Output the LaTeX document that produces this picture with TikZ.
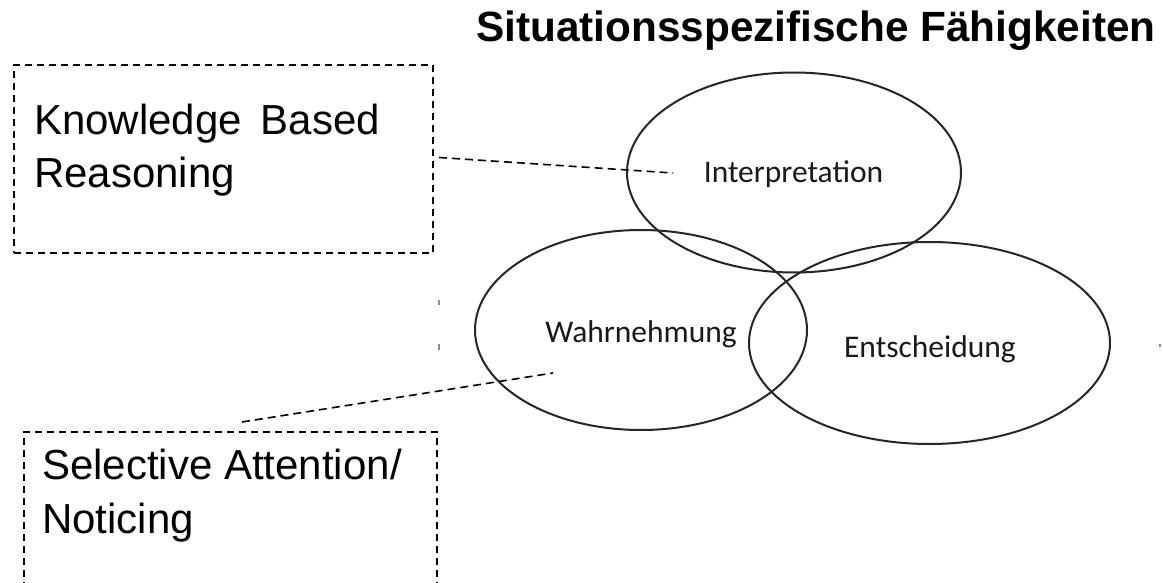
\documentclass[tikz,border=0pt]{standalone}
\usepackage{fontspec}
\setmainfont{Liberation Sans}
\newfontfamily\calib{Carlito}
\usetikzlibrary{shapes.geometric}
\tikzset{
  ell/.style={draw=black!85, line width=2pt, ellipse, inner sep=0pt},
  elltext/.style={font=\calib\fontsize{31.5}{36}\selectfont, text=black!90, anchor=base, inner sep=0pt},
  dbox/.style={draw=black, line width=1.5pt, dash pattern=on 7pt off 5pt, rectangle, inner sep=0pt},
  boxtext/.style={font=\fontsize{42}{54}\selectfont, anchor=base west, inner sep=0pt, align=left},
  dline/.style={draw=black, line width=1.6pt, dash pattern=on 8pt off 5pt},
}
\begin{document}
\begin{tikzpicture}[x=1pt,y=-1pt]
\clip (0,0) rectangle (1163,583);
\fill[white] (0,0) rectangle (1163,583);
% title
\node[font=\bfseries\fontsize{42.3}{48}\selectfont, anchor=base west, inner sep=0pt] (title) at (476,42) {Situationsspezifische Fähigkeiten};
% ellipses
\node[ell, minimum width=334pt, minimum height=200pt] (interp) at (794,172.5) {};
\node[ell, minimum width=332pt, minimum height=200pt] (wahr) at (641,330) {};
\node[ell, minimum width=361pt, minimum height=202pt] (ents) at (929.5,343) {};
\node[elltext] (tinterp) at (793.5,183) {Interpretation};
\node[elltext] (twahr) at (641,342) {Wahrnehmung};
\node[elltext] (tents) at (930,357) {Entscheidung};
% boxes
\node[dbox, minimum width=419pt, minimum height=188pt] (kbox) at (223.5,159) {};
\node[dbox, minimum width=413pt, minimum height=200pt] (sbox) at (230.5,532) {};
\node[boxtext] (ktext) at (34,188) {Knowledge\hspace{0.45em}Based\\Reasoning};
\node[boxtext] (stext) at (42,533) {Selective Attention/\\Noticing};
% connectors
\coordinate (k1) at (439,157.5);
\coordinate (k2) at (673,173);
\coordinate (s1) at (242,422);
\coordinate (s2) at (553,373);
\draw[dline] (k1) -- (k2);
\draw[dline] (s1) -- (s2);
% faint scan marks
\draw[black!45, line width=1.2pt] (439,300) -- (439,305);
\draw[black!45, line width=1.2pt] (439,344) -- (439,350);
\draw[black!45, line width=1.2pt] (1160,344) -- (1160,347);
\end{tikzpicture}
\end{document}
